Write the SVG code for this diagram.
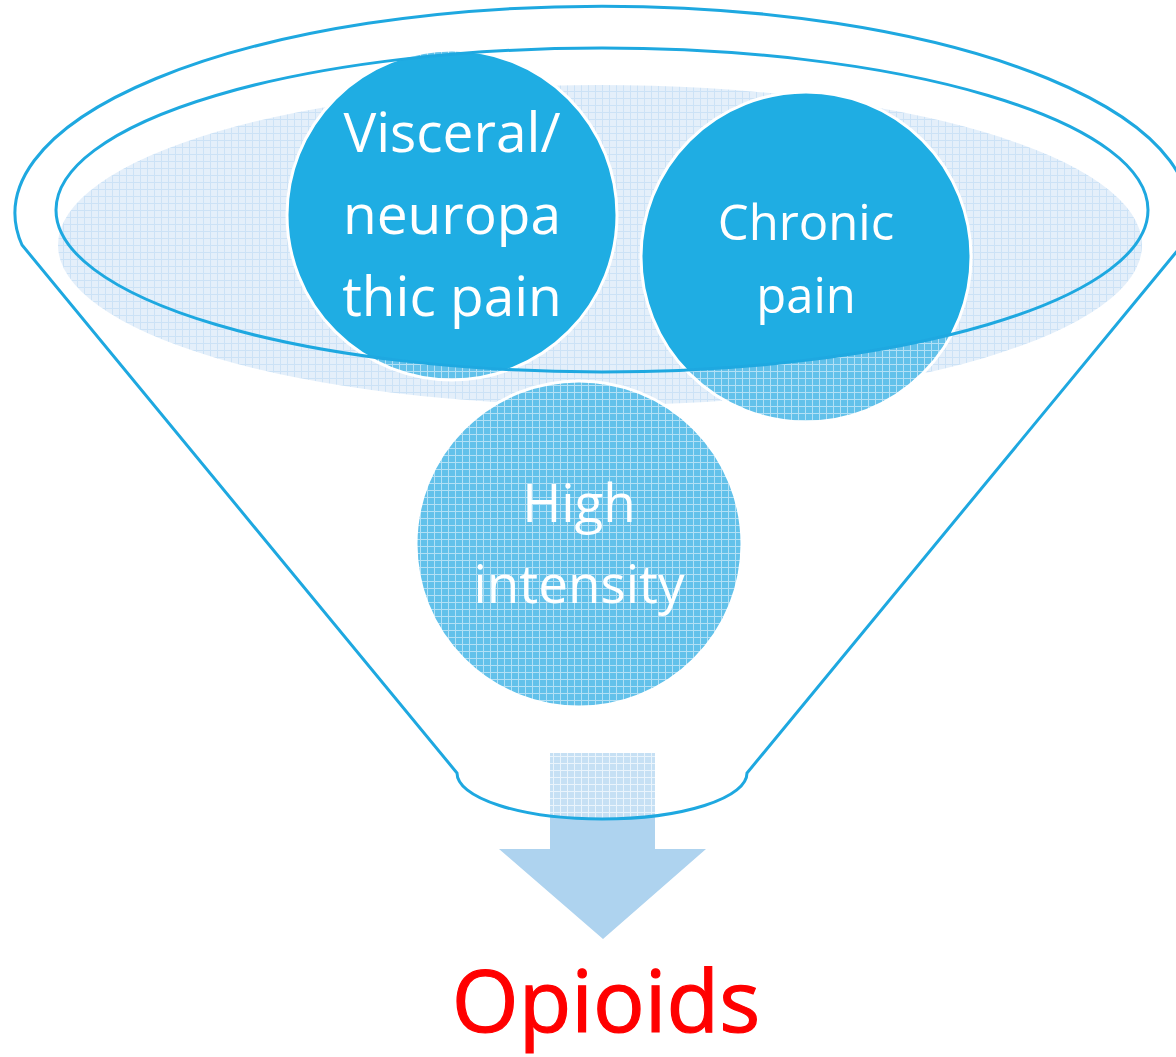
<svg xmlns="http://www.w3.org/2000/svg" width="1176" height="1057" viewBox="0 0 1176 1057">
  <defs>
    <pattern id="pLight" width="7" height="7" patternUnits="userSpaceOnUse">
      <rect width="7" height="7" fill="#e4effa"/>
      <path d="M0 0.5H7M0.5 0V7" stroke="#cce2f6" stroke-width="1"/>
    </pattern>
    <pattern id="pMid" width="7" height="7" patternUnits="userSpaceOnUse">
      <rect width="7" height="7" fill="#62c1ea"/>
      <path d="M0 0.5H7M0.5 0V7" stroke="#b2e0f5" stroke-width="1"/>
    </pattern>
    <pattern id="pArrow" width="7" height="7" patternUnits="userSpaceOnUse">
      <rect width="7" height="7" fill="#c6e0f4"/>
      <path d="M0 0.5H7M0.5 0V7" stroke="#eaf4fc" stroke-width="1"/>
    </pattern>
    <clipPath id="innerClip">
      <ellipse cx="602" cy="210" rx="546" ry="162"/>
    </clipPath>
    <clipPath id="neckClip">
      <path d="M440 700 L457 773 A145 46 0 0 0 747 773 L765 700 Z"/>
    </clipPath>
  </defs>
  <style>
    .outline { fill: none; stroke: #1ea8e0; stroke-width: 3; }
    .solid { fill: #1fade3; }
    .pat { fill: url(#pMid); }
    .ring { fill: none; stroke: #ffffff; stroke-width: 3; }
    .lbl { font-family: "Open Sans", "Liberation Sans", sans-serif; fill: #ffffff; text-anchor: middle; }
  </style>

  <!-- shaded bowl surface -->
  <ellipse cx="600" cy="245" rx="542" ry="160" fill="url(#pLight)"/>

  <!-- arrow -->
  <g id="arrow">
    <polygon points="550,753 655,753 655,849 706,849 603,939 499,849 550,849" fill="#aed3ef"/>
    <rect x="550" y="753" width="105" height="70" fill="url(#pArrow)" clip-path="url(#neckClip)"/>
  </g>

  <g id="node-visceral">
    <circle cx="452" cy="215" r="165" class="pat"/>
    <circle cx="452" cy="215" r="165" class="solid" clip-path="url(#innerClip)"/>
    <circle cx="452" cy="215" r="165" class="ring"/>
  </g>
  <g id="node-chronic">
    <circle cx="806" cy="257" r="165" class="pat"/>
    <circle cx="806" cy="257" r="165" class="solid" clip-path="url(#innerClip)"/>
    <circle cx="806" cy="257" r="165" class="ring"/>
  </g>
  <g id="node-high">
    <circle cx="579" cy="544" r="163" class="pat"/>
    <circle cx="579" cy="544" r="163" class="ring"/>
  </g>

  <!-- funnel outlines -->
  <g id="connectors">
    <ellipse cx="602" cy="210" rx="546" ry="162" class="outline"/>
    <path d="M22 245 A587 207 0 1 1 1182 245 L747 773 A145 46 0 0 1 457 773 Z" class="outline"/>
  </g>

  <!-- labels -->
  <text class="lbl" font-size="55" x="452" y="152">Visceral/</text>
  <text class="lbl" font-size="55" x="452" y="234">neuropa</text>
  <text class="lbl" font-size="55" x="452" y="316">thic pain</text>
  <text class="lbl" font-size="49" x="806" y="240">Chronic</text>
  <text class="lbl" font-size="49" x="806" y="313">pain</text>
  <text class="lbl" font-size="53" x="579" y="522">High</text>
  <text class="lbl" font-size="53" x="579" y="603">intensity</text>

  <text x="606" y="1032" font-family="Open Sans, Liberation Sans, sans-serif" font-size="86" fill="#ff0000" stroke="#ff0000" stroke-width="1.2" text-anchor="middle">Opioids</text>
</svg>
